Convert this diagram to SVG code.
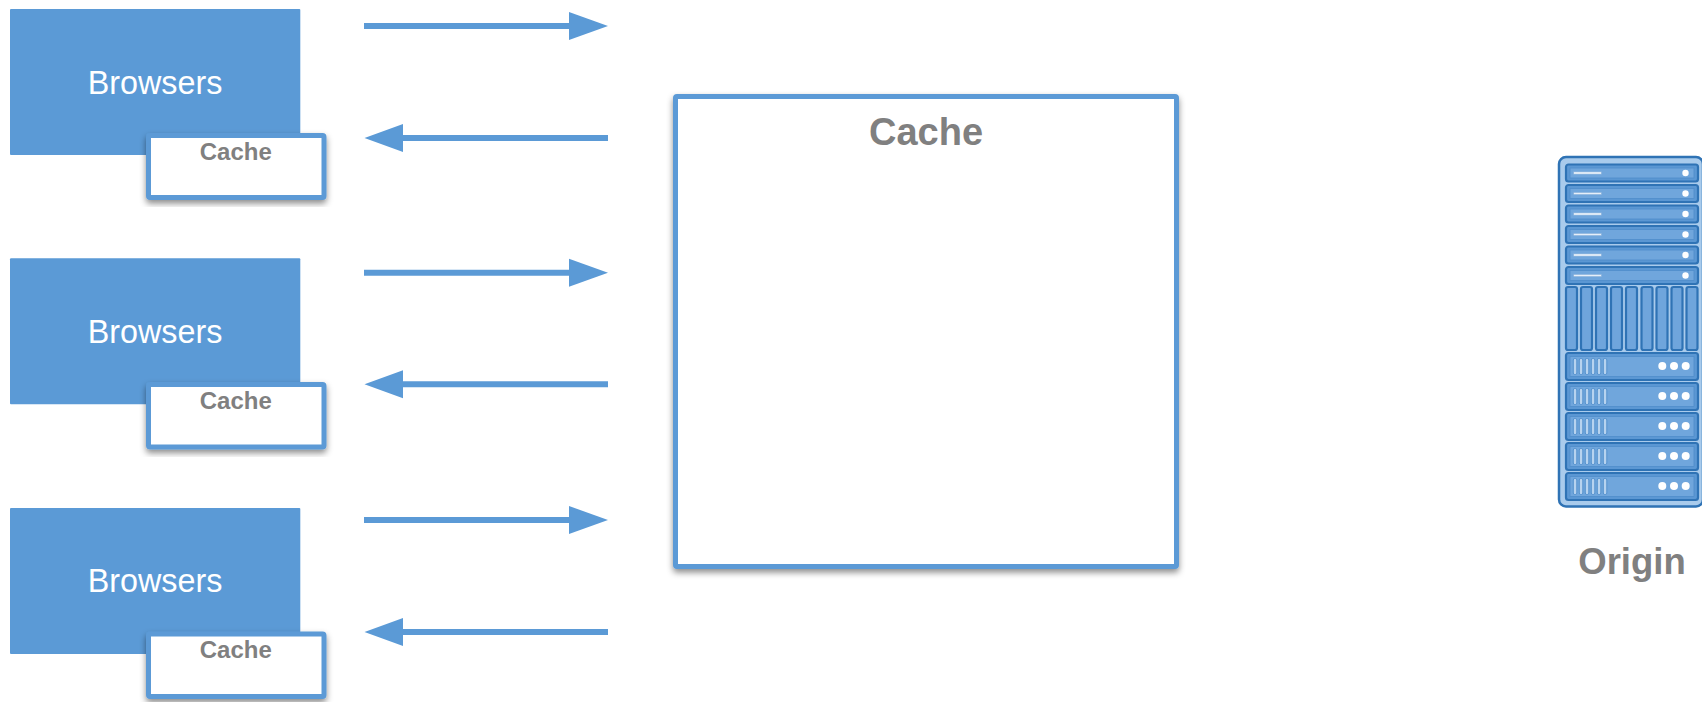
<svg xmlns="http://www.w3.org/2000/svg" width="1702" height="702" viewBox="0 0 1702 702">
<style>
.browser{fill:#5b9ad6}
.cachebox{fill:#fff;stroke:#5b9ad6;stroke-width:5;stroke-linejoin:round;filter:url(#sh)}
.bt{font-family:"Liberation Sans",Arial,sans-serif;font-size:32.300px;fill:#fff;text-anchor:middle}
.gt{font-family:"Liberation Sans",Arial,sans-serif;font-weight:bold;fill:#808080;text-anchor:middle}
.line{stroke:#5b9ad6;stroke-width:6;fill:none}
.head{fill:#5b9ad6}
.unit{fill:#5b97d3;stroke:#2f73b5;stroke-width:2.200}
.inner{fill:#70a6dc;stroke:#4f8dcb;stroke-width:.8}
.bar{fill:#6fa5dc;stroke:#2f73b5;stroke-width:2.200}
.slot{fill:#e6eff9;stroke:#7ca9d8;stroke-width:.6}
.vent{fill:#b7d3ef;stroke:#4f8dcb;stroke-width:.9}
.dot{fill:#fff}
</style>
<defs>
<filter id="sh" x="-10%" y="-10%" width="120%" height="125%"><feDropShadow dx="0" dy="3.500" stdDeviation="3" flood-color="#000" flood-opacity=".45"/></filter>
<g id="u1"><rect class="unit" x="1566" y="0" width="132" height="17" rx="2.500"/><rect class="inner" x="1570" y="3.500" width="124" height="10"/><rect class="slot" x="1573.500" y="7.300" width="28" height="2.400"/><circle class="dot" cx="1685.500" cy="8.500" r="3.200"/></g>
<g id="u2"><rect class="unit" x="1566" y="0" width="132" height="27" rx="2.500"/><rect class="inner" x="1570" y="3.500" width="124" height="20"/><rect class="vent" x="1573.300" y="5.500" width="3.500" height="16" rx="1.500"/><rect class="vent" x="1579.300" y="5.500" width="3.500" height="16" rx="1.500"/><rect class="vent" x="1585.300" y="5.500" width="3.500" height="16" rx="1.500"/><rect class="vent" x="1591.300" y="5.500" width="3.500" height="16" rx="1.500"/><rect class="vent" x="1597.300" y="5.500" width="3.500" height="16" rx="1.500"/><rect class="vent" x="1603.300" y="5.500" width="3.500" height="16" rx="1.500"/><circle class="dot" cx="1662.300" cy="13" r="4"/><circle class="dot" cx="1674" cy="13" r="4"/><circle class="dot" cx="1685.700" cy="13" r="4"/></g>
</defs>
<g id="connectors">
<path class="line" d="M364 26H572"/><polygon class="head" points="569,12 608,26 569,40"/>
<path class="line" d="M400 138H608"/><polygon class="head" points="364.500,138 403,124 403,152"/>
<path class="line" d="M364 272.700H572"/><polygon class="head" points="569,258.700 608,272.700 569,286.700"/>
<path class="line" d="M400 384.300H608"/><polygon class="head" points="364.500,384.300 403,370.300 403,398.300"/>
<path class="line" d="M364 520H572"/><polygon class="head" points="569,506 608,520 569,534"/>
<path class="line" d="M400 632H608"/><polygon class="head" points="364.500,632 403,618 403,646"/>
</g>
<g id="browsers1"><rect class="browser" x="10" y="9" width="290.300" height="146" rx="1"/><text class="bt" x="155" y="94">Browsers</text></g>
<g id="cache1"><rect class="cachebox" x="148.500" y="135.500" width="175.500" height="62" rx="1.500"/><text class="gt" x="235.800" y="160" font-size="24">Cache</text></g>
<g id="browsers2"><rect class="browser" x="10" y="258.300" width="290.300" height="146" rx="1"/><text class="bt" x="155" y="342.500">Browsers</text></g>
<g id="cache2"><rect class="cachebox" x="148.500" y="384.500" width="175.500" height="62.500" rx="1.500"/><text class="gt" x="235.800" y="408.700" font-size="24">Cache</text></g>
<g id="browsers3"><rect class="browser" x="10" y="508" width="290.300" height="146" rx="1"/><text class="bt" x="155" y="592">Browsers</text></g>
<g id="cache3"><rect class="cachebox" x="148.500" y="634" width="175.500" height="62.500" rx="1.500"/><text class="gt" x="235.800" y="658.300" font-size="24">Cache</text></g>
<g id="cache-main"><rect class="cachebox" x="675.500" y="96.500" width="501" height="470" rx="1.500"/><text class="gt" x="926" y="145" font-size="38">Cache</text></g>
<g id="origin">
<rect x="1559" y="157" width="144" height="349.500" rx="7" fill="#a9cbec" stroke="#2f73b5" stroke-width="2.500"/>
<use href="#u1" y="164.500"/><use href="#u1" y="185"/><use href="#u1" y="205.500"/><use href="#u1" y="226"/><use href="#u1" y="246.500"/><use href="#u1" y="267"/>
<rect class="bar" x="1566" y="287" width="11" height="63" rx="2"/><rect class="bar" x="1581" y="287" width="11" height="63" rx="2"/><rect class="bar" x="1596" y="287" width="11" height="63" rx="2"/><rect class="bar" x="1611" y="287" width="11" height="63" rx="2"/><rect class="bar" x="1626" y="287" width="11" height="63" rx="2"/><rect class="bar" x="1641.500" y="287" width="11" height="63" rx="2"/><rect class="bar" x="1656.500" y="287" width="11" height="63" rx="2"/><rect class="bar" x="1671.500" y="287" width="11" height="63" rx="2"/><rect class="bar" x="1686.500" y="287" width="11" height="63" rx="2"/>
<use href="#u2" y="353"/><use href="#u2" y="383"/><use href="#u2" y="413"/><use href="#u2" y="443"/><use href="#u2" y="473"/>
<text class="gt" x="1632" y="574" font-size="36.500">Origin</text>
</g>
</svg>
